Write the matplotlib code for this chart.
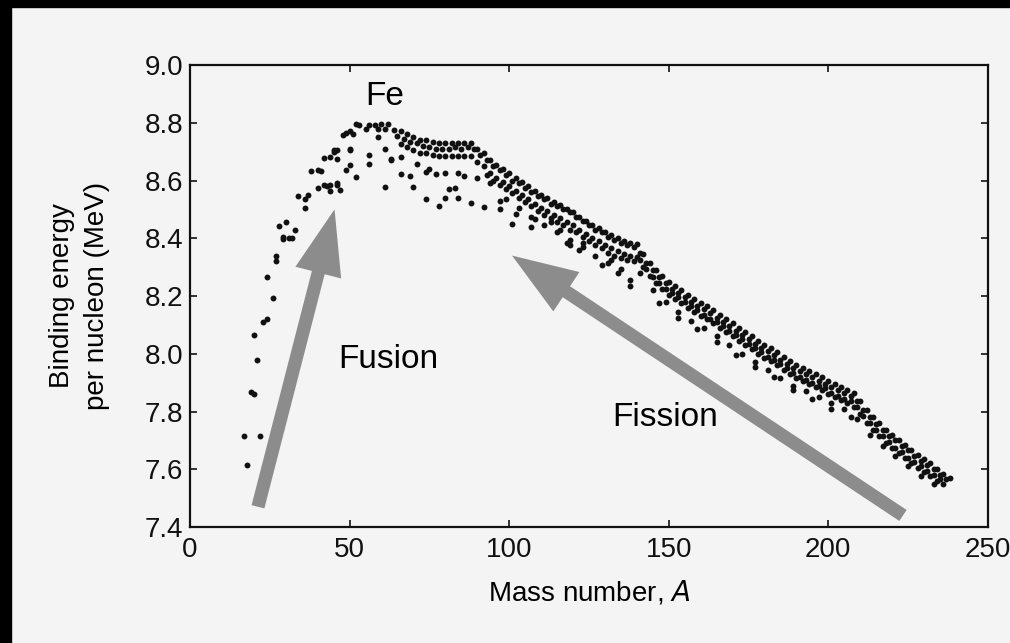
import matplotlib
matplotlib.use("Agg")
import matplotlib.pyplot as plt
from matplotlib.patches import FancyArrowPatch, Rectangle, ArrowStyle

plt.rcParams["font.family"] = ["Liberation Sans", "DejaVu Sans"]

# light nuclei, read point by point
mass_light = [17, 22, 18, 19, 20, 21, 20, 23, 24, 26, 24, 27, 27, 28, 29, 30, 31, 32, 33, 29,
              34, 36, 36, 37]
be_light = [7.714, 7.714, 7.613, 7.866, 7.862, 7.978, 8.065, 8.110, 8.121, 8.194, 8.267, 8.340,
            8.322, 8.441, 8.406, 8.458, 8.402, 8.402, 8.427, 8.399, 8.545, 8.504, 8.535, 8.549]

# around the iron peak
mass_peak = [38, 40, 41, 40, 42, 43, 44, 46, 46, 47, 44, 42, 44, 46, 45, 45, 46, 50, 50, 49,
             50, 52, 48, 49, 50, 51, 52, 53, 55, 56, 58, 59, 60, 61, 62, 59, 56, 56, 61, 63, 61]
be_peak = [8.633, 8.637, 8.633, 8.574, 8.584, 8.581, 8.585, 8.592, 8.585, 8.568, 8.564, 8.679,
           8.680, 8.673, 8.697, 8.707, 8.707, 8.704, 8.708, 8.635, 8.652, 8.611, 8.756, 8.766,
           8.773, 8.760, 8.795, 8.792, 8.778, 8.793, 8.793, 8.780, 8.794, 8.777, 8.795, 8.752,
           8.688, 8.656, 8.708, 8.674, 8.577]

# upper edge of the band (even A)
mass_top = list(range(64, 239, 2))
be_top = [8.775, 8.77, 8.76, 8.75, 8.74, 8.74, 8.735, 8.73, 8.73, 8.73, 8.73, 8.73, 8.73,
          8.71, 8.695, 8.67, 8.655, 8.64, 8.625, 8.61, 8.595, 8.58, 8.565, 8.55, 8.54, 8.525,
          8.515, 8.50, 8.49, 8.475, 8.46, 8.445, 8.435, 8.42, 8.41, 8.40, 8.39, 8.385, 8.38,
          8.345, 8.315, 8.29, 8.27, 8.25, 8.235, 8.22, 8.205, 8.19, 8.175, 8.165, 8.15, 8.135,
          8.12, 8.105, 8.09, 8.075, 8.06, 8.045, 8.03, 8.02, 8.005, 7.99, 7.975, 7.96, 7.95,
          7.94, 7.93, 7.92, 7.905, 7.895, 7.885, 7.875, 7.865, 7.835, 7.805, 7.78, 7.76,
          7.735, 7.72, 7.70, 7.685, 7.665, 7.65, 7.635, 7.62, 7.60, 7.585, 7.57]

# second row (odd A)
mass_mid = list(range(65, 238, 2))
be_mid = [8.755, 8.745, 8.735, 8.73, 8.72, 8.715, 8.71, 8.71, 8.71, 8.715, 8.71, 8.715,
          8.71, 8.69, 8.67, 8.65, 8.635, 8.62, 8.60, 8.59, 8.575, 8.56, 8.545, 8.535, 8.52,
          8.51, 8.50, 8.49, 8.475, 8.46, 8.445, 8.43, 8.42, 8.405, 8.395, 8.385, 8.375, 8.37,
          8.35, 8.315, 8.29, 8.265, 8.245, 8.225, 8.21, 8.195, 8.18, 8.165, 8.155, 8.14, 8.125,
          8.11, 8.095, 8.08, 8.065, 8.05, 8.035, 8.02, 8.01, 7.995, 7.98, 7.965, 7.95, 7.94,
          7.93, 7.92, 7.905, 7.895, 7.885, 7.875, 7.865, 7.855, 7.835, 7.805, 7.78, 7.755,
          7.735, 7.715, 7.70, 7.68, 7.665, 7.645, 7.63, 7.615, 7.60, 7.58, 7.565]

# third row (even A)
mass_low = list(range(66, 237, 2))
be_low = [8.725, 8.715, 8.705, 8.695, 8.695, 8.69, 8.685, 8.685, 8.685, 8.685, 8.685, 8.685,
          8.665, 8.65, 8.625, 8.61, 8.595, 8.58, 8.565, 8.55, 8.535, 8.52, 8.505, 8.495, 8.48,
          8.47, 8.455, 8.445, 8.43, 8.415, 8.40, 8.39, 8.375, 8.365, 8.355, 8.345, 8.34, 8.335,
          8.30, 8.27, 8.245, 8.225, 8.205, 8.19, 8.175, 8.16, 8.145, 8.13, 8.12, 8.105, 8.09,
          8.075, 8.06, 8.045, 8.03, 8.015, 8.0, 7.985, 7.975, 7.96, 7.945, 7.93, 7.915, 7.905,
          7.895, 7.885, 7.875, 7.86, 7.85, 7.84, 7.83, 7.815, 7.79, 7.76, 7.735, 7.715, 7.69,
          7.675, 7.655, 7.64, 7.62, 7.605, 7.59, 7.575, 7.56, 7.55]

# fourth row of the heavy part (odd A)
mass_deep = list(range(141, 236, 2))
be_deep = [8.325, 8.295, 8.265, 8.245, 8.225, 8.21, 8.195, 8.18, 8.165, 8.15, 8.135, 8.12,
           8.11, 8.095, 8.08, 8.065, 8.05, 8.035, 8.02, 8.005, 7.99, 7.98, 7.965, 7.95, 7.935,
           7.92, 7.91, 7.90, 7.89, 7.88, 7.865, 7.855, 7.845, 7.835, 7.815, 7.785, 7.76,
           7.735, 7.715, 7.695, 7.675, 7.66, 7.64, 7.625, 7.61, 7.595, 7.58, 7.565]

# scattered points below the band, A = 63..139
mass_scatter = [70, 74, 78, 84, 88, 92, 97, 101, 102, 107, 108, 113, 118, 123, 122, 129, 132,
                134, 138, 138, 66, 71, 75, 80, 84, 86, 90, 94, 63, 66, 69, 74, 77, 81, 83, 80,
                97, 116, 119,
                93, 95, 97, 99, 101, 103, 105, 107, 109, 111, 113, 115, 117, 119, 121, 123, 125,
                127, 129, 131, 133, 135, 137, 139,
                99, 103, 107, 111, 115, 119, 123, 127, 131, 135]
be_scatter = [8.578, 8.537, 8.510, 8.538, 8.522, 8.508, 8.502, 8.450, 8.485, 8.440, 8.468,
              8.455, 8.383, 8.383, 8.359, 8.308, 8.325, 8.281, 8.257, 8.233, 8.682, 8.658,
              8.641, 8.625, 8.625, 8.615, 8.608, 8.592, 8.671, 8.623, 8.614, 8.631, 8.621,
              8.569, 8.573, 8.538, 8.530, 8.428, 8.376,
              8.62, 8.60, 8.585, 8.57, 8.555, 8.54, 8.525, 8.51, 8.495, 8.48, 8.47, 8.455,
              8.445, 8.43, 8.42, 8.405, 8.39, 8.375, 8.365, 8.35, 8.34, 8.33, 8.325, 8.32,
              8.535, 8.505, 8.475, 8.445, 8.42, 8.395, 8.37, 8.34, 8.315, 8.295]

# lower fringe of the heavy part of the band
mass_fringe = [141, 145, 149, 153, 157, 161, 165, 169, 173, 177, 181, 185, 189, 193, 197,
               201, 205, 209, 213, 217, 221, 225, 229, 233,
               147, 153, 159, 165, 171, 177, 183, 189, 195, 201, 207]
be_fringe = [8.28, 8.22, 8.18, 8.145, 8.115, 8.09, 8.06, 8.03, 8.0, 7.97, 7.945, 7.915, 7.89,
             7.87, 7.85, 7.83, 7.81, 7.775, 7.72, 7.68, 7.645, 7.61, 7.575, 7.55,
             8.175, 8.125, 8.085, 8.04, 7.995, 7.955, 7.92, 7.875, 7.845, 7.81, 7.78]

x_ticks = [0, 50, 100, 150, 200, 250]
y_ticks = [7.4, 7.6, 7.8, 8.0, 8.2, 8.4, 8.6, 8.8, 9.0]

paper = "#f4f4f4"
ink = "#111111"
arrow_grey = "#8c8c8c"

fig = plt.figure(figsize=(10.10, 6.43), dpi=100, facecolor=paper)
ax = fig.add_axes([0.1881, 0.1804, 0.790, 0.7185])
ax.set_facecolor(paper)

mass = (mass_light + mass_peak + mass_top + mass_mid + mass_low + mass_deep
        + mass_scatter + mass_fringe)
be = be_light + be_peak + be_top + be_mid + be_low + be_deep + be_scatter + be_fringe
ax.scatter(mass, be, s=18, color=ink, linewidths=0, zorder=3)

ax.set_xlim(0, 250)
ax.set_ylim(7.4, 9.0)
ax.set_xticks(x_ticks)
ax.set_yticks(y_ticks)
ax.set_xticklabels([str(v) for v in x_ticks])
ax.set_yticklabels([f"{v:.1f}" for v in y_ticks])
ax.tick_params(direction="in", length=5, width=1.2, labelsize=20, top=True, right=True,
               colors=ink)
ax.tick_params(axis="x", pad=7)
ax.tick_params(axis="y", pad=5)
for sp in ax.spines.values():
    sp.set_linewidth(1.6)
    sp.set_color(ink)

ax.set_xlabel("Mass number, $\\it{A}$", fontsize=20, labelpad=11)
ax.set_ylabel("Binding energy\nper nucleon (MeV)", fontsize=20, linespacing=1.45)
ax.yaxis.set_label_coords(-0.10, 0.5)

ax.text(61, 8.89, "Fe", fontsize=24, ha="center", va="center")
ax.text(62, 7.98, "Fusion", fontsize=24, ha="center", va="center")
ax.text(149, 7.78, "Fission", fontsize=24, ha="center", va="center")

style = ArrowStyle.Simple(head_length=4.7, head_width=3.4, tail_width=0.95)
for tail, tip in [((21.3, 7.47), (45.3, 8.50)), ((223.4, 7.44), (100.9, 8.34))]:
    ax.add_patch(FancyArrowPatch(tail, tip, arrowstyle=style, mutation_scale=10,
                                 color=arrow_grey, lw=0, shrinkA=0, shrinkB=0, zorder=2))

# dark scanner margins
fig.patches.append(Rectangle((0, 0), 11 / 1010, 1, transform=fig.transFigure,
                             color="black", zorder=10))
fig.patches.append(Rectangle((0, 1 - 7 / 643), 1, 7 / 643, transform=fig.transFigure,
                             color="black", zorder=10))

fig.savefig("out.png", dpi=100, facecolor=paper)
